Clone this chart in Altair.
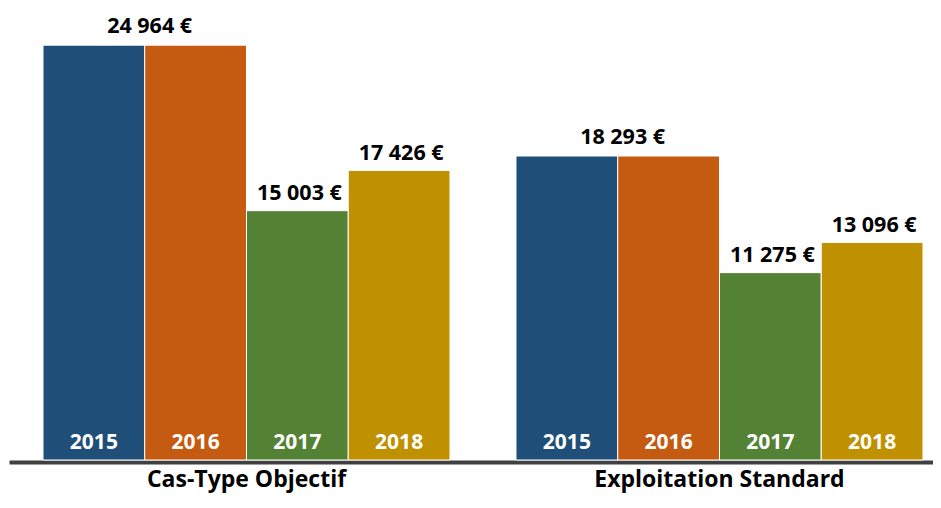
import altair as alt
import pandas as pd

groups = ["Cas-Type Objectif"] * 4 + ["Exploitation Standard"] * 4
years = ["2015", "2016", "2017", "2018"] * 2
values = [24964, 24964, 15003, 17426, 18293, 18293, 11275, 13096]
labels = ["24 964 €", "24 964 €", "15 003 €", "17 426 €",
          "18 293 €", "18 293 €", "11 275 €", "13 096 €"]
group_order = ["Cas-Type Objectif", "Exploitation Standard"]
year_order = ["2015", "2016", "2017", "2018"]
colors = ["#1F4E79", "#C55A11", "#548235", "#BF9000"]

df = pd.DataFrame({"group": groups, "year": years, "value": values, "label": labels})

FONT = "Open Sans"

x = alt.X(
    "group:N",
    sort=group_order,
    scale=alt.Scale(paddingInner=0.139535, paddingOuter=0.046512, align=0.7727),
    axis=alt.Axis(
        title=None, labelAngle=0, ticks=False, tickSize=0,
        domainColor="#404040", domainWidth=4, offset=2,
        labelPadding=24, labelBaseline="alphabetic", labelLimit=0,
        labelFont=FONT, labelFontWeight="bold", labelFontSize=23,
        labelColor="#000000", grid=False,
    ),
)
xo = alt.XOffset("year:N", sort=year_order, scale=alt.Scale(paddingInner=0, paddingOuter=0))
y = alt.Y("value:Q", scale=alt.Scale(domain=[0, 27200], nice=False), axis=None)

base = alt.Chart(df)

bars = base.mark_bar(stroke="white", strokeWidth=1).encode(
    x=x, xOffset=xo, y=y,
    color=alt.Color("year:N", scale=alt.Scale(domain=year_order, range=colors), legend=None),
)

pair_label = base.transform_filter(alt.datum.year == "2016").mark_text(
    font=FONT, fontWeight="bold", fontSize=21.5, color="#000000",
    baseline="alphabetic", dy=-12.5, dx=-46,
).encode(x=x, xOffset=xo, y=y, text="label:N")

single_labels = base.transform_filter(
    (alt.datum.year == "2017") | (alt.datum.year == "2018")
).mark_text(
    font=FONT, fontWeight="bold", fontSize=21.5, color="#000000",
    baseline="alphabetic", dy=-10.5, dx=2,
).encode(x=x, xOffset=xo, y=y, text="label:N")

year_labels = base.mark_text(
    font=FONT, fontWeight="bold", fontSize=21, color="white",
    baseline="alphabetic", dy=-10.7,
).encode(x=x, xOffset=xo, y=alt.datum(0), text="year:N")

chart = alt.layer(bars, pair_label, single_labels, year_labels).properties(
    width=924, height=452,
    padding={"left": 1, "top": 0, "right": 0, "bottom": 4},
).configure_view(stroke=None)

chart.save("out.html", embed_options={"renderer": "svg", "actions": False})
